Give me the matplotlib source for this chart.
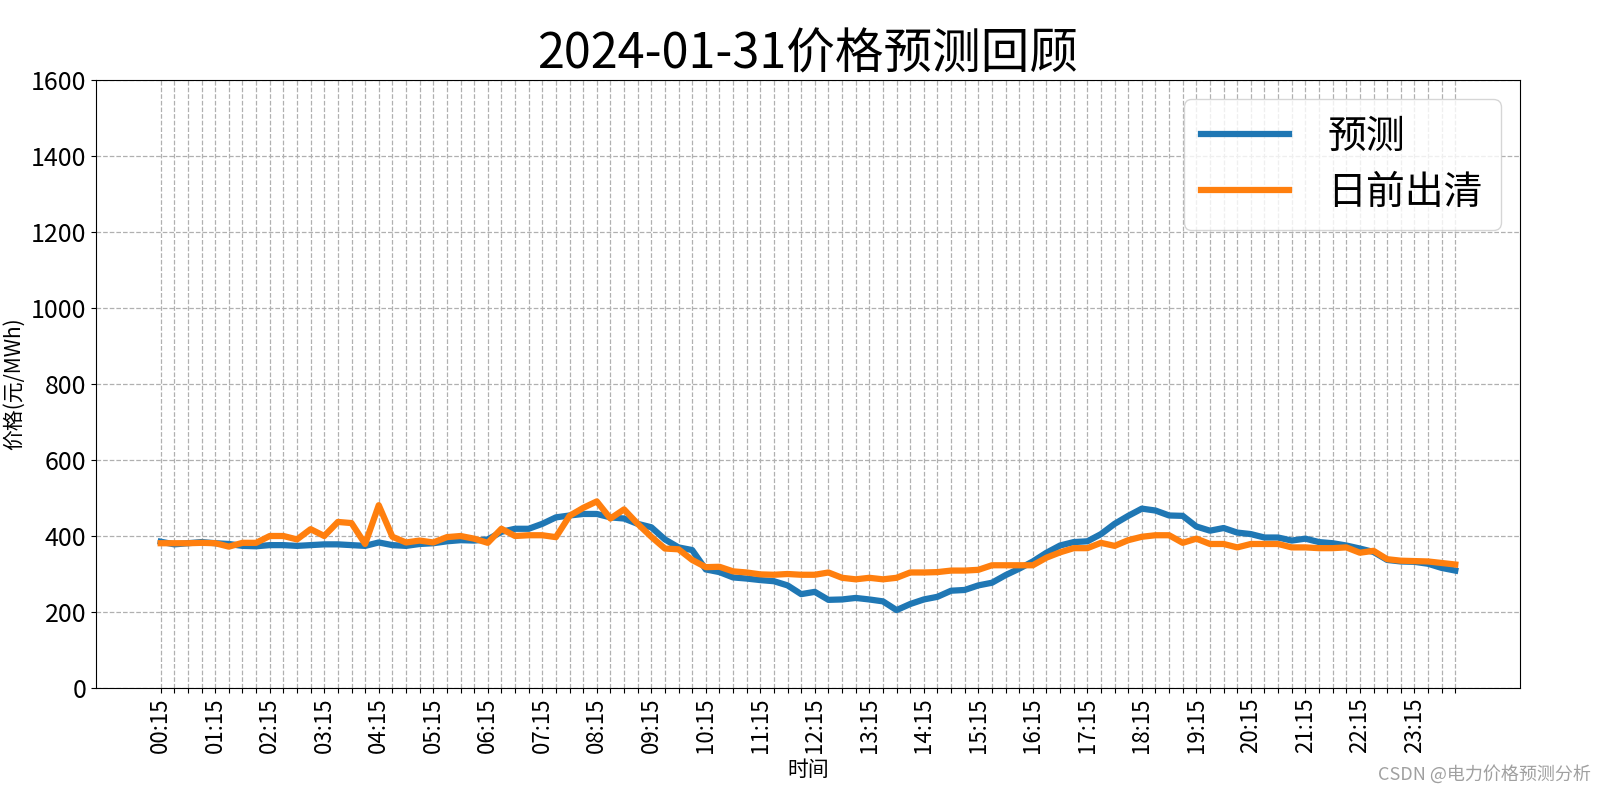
import matplotlib
matplotlib.use("Agg")
import matplotlib.pyplot as plt

plt.rcParams['font.family'] = ['Noto Sans CJK SC', 'DejaVu Sans']
plt.rcParams['axes.unicode_minus'] = False

title = "2024-01-31价格预测回顾"
times = [f"{(15 * (k + 1)) // 60:02d}:{(15 * (k + 1)) % 60:02d}" for k in range(96)]

forecast = [385, 378, 381, 384, 381, 379, 374, 373, 376, 376, 374, 376, 378, 378, 376, 374,
            383, 376, 374, 379, 381, 386, 389, 388, 391, 411, 419, 419, 432, 449, 454, 458,
            458, 449, 446, 432, 423, 391, 370, 363, 312, 305, 291, 288, 284, 281, 270, 247,
            253, 232, 233, 237, 233, 228, 205, 221, 233, 240, 256, 258, 270, 277, 297, 314,
            333, 356, 375, 384, 386, 405, 432, 453, 472, 467, 454, 453, 425, 414, 421, 409,
            405, 396, 396, 388, 393, 384, 381, 375, 367, 358, 337, 333, 332, 327, 316, 309]

cleared = [381, 381, 381, 382, 381, 372, 382, 382, 400, 400, 391, 418, 400, 437, 434, 379,
           481, 398, 383, 388, 383, 397, 400, 393, 382, 419, 400, 402, 402, 397, 453, 474,
           491, 446, 470, 432, 398, 367, 365, 337, 318, 319, 307, 304, 299, 298, 300, 298,
           298, 304, 290, 286, 290, 286, 290, 304, 304, 305, 309, 309, 311, 323, 323, 323,
           323, 343, 357, 368, 368, 382, 374, 389, 398, 402, 402, 382, 393, 379, 379, 370,
           379, 379, 379, 370, 370, 368, 368, 370, 356, 361, 339, 335, 334, 333, 329, 325]

yticks = [0, 200, 400, 600, 800, 1000, 1200, 1400, 1600]

fig = plt.figure(figsize=(16, 8), dpi=100)
ax = fig.add_axes([0.06, 0.14, 0.89, 0.76])

x = list(range(len(times)))
ax.plot(x, forecast, color='#1f77b4', linewidth=4.5, label='预测')
ax.plot(x, cleared, color='#ff7f0e', linewidth=4.5, label='日前出清')

ax.set_xticks(x)
ax.set_xticklabels([t if i % 4 == 0 else '' for i, t in enumerate(times)], rotation=90, fontsize=16)
ax.set_ylim(0, 1600)
ax.set_yticks(yticks)
ax.set_yticklabels([str(v) for v in yticks], fontsize=18)
ax.grid(True, linestyle='--', color='#b0b0b0', linewidth=0.9)

ax.set_title(title, fontsize=35, pad=6)
ax.set_xlabel('时间', fontsize=15, labelpad=4)
ax.set_ylabel('价格(元/MWh)', fontsize=15, labelpad=4)

ax.legend(loc='upper right', fontsize=28, handlelength=2.25, handletextpad=1.0,
          labelspacing=0.4, borderpad=0.45)

fig.text(0.994, 0.032, 'CSDN @电力价格预测分析', ha='right', va='center', fontsize=13, color='#a0a0a0')

fig.savefig('out.png', dpi=100)
